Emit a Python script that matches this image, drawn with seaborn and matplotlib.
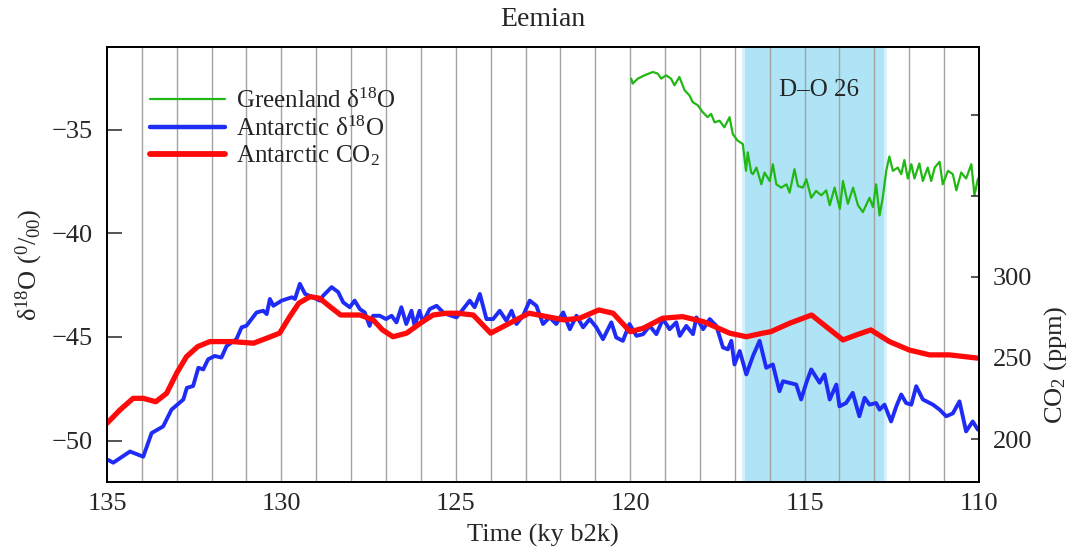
import matplotlib
matplotlib.use("Agg")
import matplotlib.pyplot as plt
import seaborn as sns
import numpy as np
from matplotlib.lines import Line2D

# ---------------- data ----------------
green_ky = [119.97, 119.93, 119.78, 119.59, 119.35, 119.21, 119.11, 118.97, 118.83, 118.73,
            118.59, 118.44, 118.30, 118.21, 118.06, 117.92, 117.78, 117.68, 117.58, 117.44,
            117.30, 117.15, 117.06, 116.92, 116.77, 116.68, 116.63, 116.53, 116.48, 116.38,
            116.24, 116.15, 116.00, 115.91, 115.81, 115.67, 115.52, 115.43, 115.29, 115.19,
            115.05, 114.95, 114.81, 114.67, 114.52, 114.38, 114.28, 114.14, 113.99, 113.90,
            113.76, 113.61, 113.47, 113.33, 113.14, 113.04, 112.95, 112.85, 112.76, 112.66,
            112.57, 112.47, 112.33, 112.23, 112.14, 112.04, 111.94, 111.85, 111.71, 111.61,
            111.47, 111.37, 111.27, 111.13, 111.04, 110.89, 110.75, 110.65, 110.51, 110.37,
            110.22, 110.13, 110.03]
green_d18o = [-32.54, -32.78, -32.54, -32.38, -32.22, -32.30, -32.54, -32.38, -32.54, -32.86,
              -32.46, -33.10, -33.35, -33.67, -33.83, -34.16, -34.40, -34.24, -34.65, -34.57,
              -34.89, -34.40, -35.21, -35.53, -35.70, -36.99, -36.10, -37.07, -37.15, -36.83,
              -37.64, -37.07, -37.48, -36.67, -37.64, -37.80, -37.64, -38.04, -36.91, -37.72,
              -37.80, -37.39, -38.29, -37.96, -38.17, -37.93, -38.65, -37.80, -38.82, -37.48,
              -38.58, -37.80, -38.65, -38.98, -38.29, -38.74, -37.64, -39.14, -38.29, -36.99,
              -36.30, -36.99, -36.83, -37.15, -36.47, -37.36, -36.67, -37.36, -36.63, -37.48,
              -36.83, -37.48, -36.83, -36.55, -37.64, -36.99, -37.15, -37.93, -37.07, -37.36,
              -36.67, -38.17, -37.36]

blue_ky = [134.96, 134.82, 134.34, 133.96, 133.72, 133.39, 133.15, 132.81, 132.71, 132.53,
           132.38, 132.24, 132.10, 131.91, 131.72, 131.57, 131.29, 131.14, 131.00, 130.71,
           130.52, 130.42, 130.33, 130.23, 129.99, 129.70, 129.61, 129.47, 129.32, 129.09,
           128.90, 128.80, 128.56, 128.37, 128.23, 128.04, 127.90, 127.75, 127.61, 127.47,
           127.37, 127.18, 127.00, 126.84, 126.70, 126.56, 126.42, 126.27, 126.18, 126.04,
           125.94, 125.75, 125.55, 125.36, 125.27, 124.98, 124.79, 124.60, 124.46, 124.31,
           124.12, 123.93, 123.74, 123.55, 123.40, 123.26, 123.07, 122.88, 122.69, 122.50,
           122.31, 122.12, 121.92, 121.73, 121.54, 121.35, 121.16, 120.97, 120.78, 120.54,
           120.40, 120.21, 120.02, 119.82, 119.63, 119.44, 119.25, 119.06, 118.87, 118.68,
           118.58, 118.39, 118.20, 118.10, 117.91, 117.72, 117.53, 117.34, 117.20, 117.10,
           117.01, 116.86, 116.67, 116.48, 116.29, 116.10, 115.91, 115.72, 115.62, 115.24,
           115.10, 114.95, 114.81, 114.57, 114.43, 114.28, 114.09, 114.00, 113.81, 113.62,
           113.43, 113.28, 113.14, 112.95, 112.85, 112.71, 112.52, 112.37, 112.23, 112.09,
           111.94, 111.80, 111.61, 111.32, 111.13, 110.94, 110.75, 110.56, 110.37, 110.18,
           110.03]
blue_d18o = [-50.94, -51.07, -50.53, -50.78, -49.64, -49.32, -48.51, -48.02, -47.46, -47.37,
             -46.49, -46.57, -46.08, -45.92, -46.00, -45.44, -45.11, -44.54, -44.46, -43.82,
             -43.74, -43.90, -43.17, -43.50, -43.25, -43.09, -43.17, -42.44, -42.93, -43.09,
             -43.25, -43.01, -42.60, -42.84, -43.33, -43.57, -43.25, -43.66, -43.82, -44.47,
             -43.98, -43.98, -44.14, -43.98, -44.30, -43.57, -44.38, -43.74, -44.47, -43.74,
             -44.30, -43.66, -43.50, -43.82, -43.90, -44.06, -43.66, -43.25, -43.57, -42.93,
             -44.14, -44.14, -43.74, -44.22, -43.74, -44.38, -43.98, -43.25, -43.50, -44.38,
             -44.06, -44.38, -43.82, -44.63, -43.98, -44.54, -44.14, -44.54, -45.11, -44.30,
             -45.03, -45.19, -44.38, -44.95, -44.87, -44.47, -44.87, -44.14, -44.63, -44.30,
             -44.95, -44.47, -44.87, -44.06, -44.63, -44.14, -44.47, -45.51, -45.60, -45.19,
             -46.33, -45.68, -46.81, -45.92, -45.19, -46.49, -46.33, -47.62, -47.14, -47.30,
             -48.02, -47.21, -46.57, -47.21, -46.81, -48.02, -47.30, -48.35, -48.19, -47.70,
             -48.83, -47.94, -48.27, -48.19, -48.51, -48.27, -49.08, -48.35, -47.78, -48.19,
             -48.27, -47.38, -48.02, -48.27, -48.51, -48.83, -48.69, -48.11, -49.56, -49.08,
             -49.48]

red_ky = [135.00, 134.63, 134.25, 133.96, 133.60, 133.29, 133.00, 132.72, 132.40, 132.05,
          131.40, 130.80, 130.42, 130.05, 129.76, 129.50, 129.18, 128.90, 128.61, 128.30,
          127.75, 127.37, 127.10, 126.80, 126.41, 125.95, 125.65, 125.27, 124.95, 124.50,
          124.00, 123.55, 122.90, 121.90, 121.45, 120.90, 120.49, 120.00, 119.63, 119.07,
          118.50, 117.90, 117.15, 116.67, 116.20, 115.97, 115.43, 114.80, 114.38, 113.90,
          113.52, 113.10, 112.57, 112.00, 111.42, 110.85, 110.00]
red_co2 = [209.7, 217.9, 225.1, 225.1, 223.0, 228.2, 240.7, 250.8, 257.0, 260.1,
           260.1, 259.1, 262.2, 265.3, 275.5, 283.8, 287.8, 286.8, 281.7, 276.5,
           276.5, 273.5, 267.3, 263.1, 265.3, 272.4, 276.5, 277.6, 277.6, 276.5,
           265.3, 270.4, 277.6, 273.5, 274.5, 279.6, 277.6, 266.2, 268.3, 274.5,
           275.5, 272.4, 265.3, 263.1, 265.3, 266.2, 271.4, 276.5, 269.3, 261.1,
           264.2, 267.3, 260.1, 254.9, 251.9, 251.9, 249.8]

x_ticks = [135, 130, 125, 120, 115, 110]
y_ticks = [-50, -45, -40, -35]
co2_ticks = [200, 250, 300, 350, 400]
co2_ticklabels = ["200", "250", "300", "", ""]
grid_ky = list(range(111, 135))
do26_span = (116.72, 112.72)

labels = ["Greenland δ$^{18}$O", "Antarctic δ$^{18}$O", "Antarctic CO$_2$"]
colors = ["#22b814", "#1f2cf5", "#ff0a0a"]

# ---------------- style ----------------
sns.set_theme(style="white")
plt.rcParams["font.family"] = ["Liberation Serif", "DejaVu Serif"]
plt.rcParams["mathtext.fontset"] = "custom"
plt.rcParams["mathtext.rm"] = "Liberation Serif"
plt.rcParams["mathtext.it"] = "Liberation Serif:italic"
plt.rcParams["axes.edgecolor"] = "black"
plt.rcParams["axes.linewidth"] = 1.3

FS = 19
fig = plt.figure(figsize=(10.75, 5.54), dpi=100)
ax = fig.add_axes([0.0995, 0.130, 0.8112, 0.7857])

ax.axvspan(*do26_span, color="#aee4f6", lw=0, zorder=0)
ax.axvspan(do26_span[0] + 0.08, do26_span[0], color="#aee4f6", alpha=0.5, lw=0, zorder=0)
ax.axvspan(do26_span[1], do26_span[1] - 0.08, color="#aee4f6", alpha=0.5, lw=0, zorder=0)
for k in grid_ky:
    ax.axvline(k, color="#a3a3a3", lw=1.0, zorder=1)

sns.lineplot(x=green_ky, y=green_d18o, ax=ax, color=colors[0], lw=1.6,
             estimator=None, sort=True, zorder=3)
sns.lineplot(x=blue_ky, y=blue_d18o, ax=ax, color=colors[1], lw=2.8,
             estimator=None, sort=True, zorder=3)

ax.set_xlim(135, 110)
ax.set_ylim(-52.0, -31.0)
ax.set_xticks(x_ticks)
ax.set_yticks(y_ticks)
ax.set_yticklabels(["−50", "−45", "−40", "−35"])
ax.tick_params(axis="y", direction="in", length=11, width=1.1, pad=10,
               labelsize=FS, left=True, right=False)
ax.tick_params(axis="x", direction="in", length=0, pad=8, labelsize=FS)
ax.set_xlabel("Time (ky b2k)", fontsize=FS, labelpad=6)
ax.set_ylabel("δ$^{18}$O ($^{0}$/$_{00}$)", fontsize=FS)
ax.yaxis.set_label_coords(-0.071, 0.5)
ax.set_title("Eemian", fontsize=FS + 1, pad=15)
ax.text(114.6, -33.1, "D–O 26", fontsize=FS - 1, ha="center", va="center", zorder=4)

ax2 = ax.twinx()
sns.lineplot(x=red_ky, y=red_co2, ax=ax2, color=colors[2], lw=3.8,
             estimator=None, sort=True)
for l in ax2.get_lines():
    l.set_solid_joinstyle("round")
ax2.set_ylim(173.5, 442)
ax2.set_xlim(135, 110)
ax2.set_yticks(co2_ticks)
ax2.set_yticklabels(co2_ticklabels)
ax2.tick_params(axis="y", direction="in", length=6, width=1.1, pad=10,
                labelsize=FS, right=True, left=False)
ax2.set_ylabel("CO$_2$ (ppm)", fontsize=FS, rotation=90)
ax2.yaxis.set_label_coords(1.072, 0.27)
ax2.grid(False)
ax.grid(False)

handles = [Line2D([0], [0], color=colors[0], lw=1.6),
           Line2D([0], [0], color=colors[1], lw=3.2),
           Line2D([0], [0], color=colors[2], lw=4.2)]
leg = ax2.legend(handles, labels, loc="upper left", bbox_to_anchor=(0.049, 0.903),
                 frameon=False, fontsize=FS - 1, handlelength=3.0, handletextpad=0.45,
                 labelspacing=0.12, borderpad=0.0, borderaxespad=0.0)

fig.savefig("out.png", dpi=100, facecolor="white")
